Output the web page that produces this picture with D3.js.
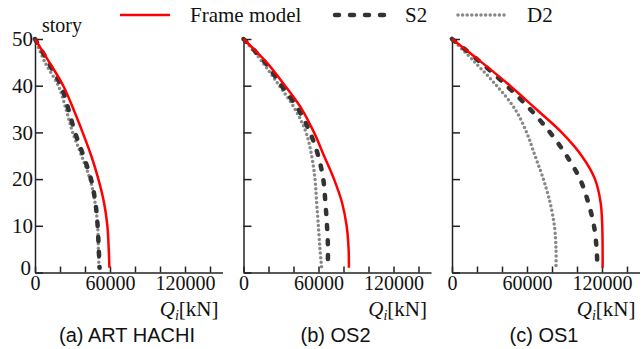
<!DOCTYPE html>
<html>
<head>
<meta charset="utf-8">
<script src="https://cdn.jsdelivr.net/npm/d3@7"></script>
<style>
  body { margin: 0; background: #fff; }
  svg text { fill: #111; }
</style>
</head>
<body>
<svg id="chart" width="643" height="349"></svg>
<script>
// story levels (top to bottom)
const stories = [50, 45, 40, 35, 30, 25, 20, 15, 10, 5, 1];

// story shear Qi [kN]
const frameA = [0, 11500, 22600, 30700, 38100, 45000, 50700, 55200, 57900, 59000, 59500];
const s2A    = [0, 10700, 20800, 26700, 32000, 38700, 44800, 48300, 50100, 51000, 51700];
const d2A    = [0,  8000, 18700, 24800, 30100, 37300, 44000, 48000, 50100, 50700, 51200];

const frameB = [0, 18500, 33200, 46600, 56400, 64400, 72400, 78800, 82500, 84100, 84300];
const s2B    = [0, 17200, 30500, 43800, 53200, 59800, 63800, 65500, 66800, 67600, 67300];
const d2B    = [0, 15300, 28700, 41200, 50000, 54500, 57200, 58500, 59900, 61200, 62500];

const frameC = [0, 23800, 46400, 67200, 87700, 103700, 114400, 118900, 120200, 120500, 120500];
const s2C    = [0, 22900, 43700, 62400, 78400, 91700, 102400, 109000, 113600, 115700, 116300];
const d2C    = [0, 18400, 35700, 50400, 59700, 66400, 73100, 78400, 81900, 83200, 83200];

const panelTitles = ["(a) ART HACHI", "(b) OS2", "(c) OS1"];
const seriesNames = ["Frame model", "S2", "D2"];
const xTicks = [0, 20000, 40000, 60000, 80000, 100000, 120000, 140000];
const xLabels = [0, 60000, 120000];
const yTicks = [0, 10, 20, 30, 40, 50];

const panels = [
  { title: panelTitles[0], left: 35,  series: [frameA, s2A, d2A], yLabels: true },
  { title: panelTitles[1], left: 243.5, series: [frameB, s2B, d2B], yLabels: false },
  { title: panelTitles[2], left: 452, series: [frameC, s2C, d2C], yLabels: false }
];

const styles = [
  { stroke: "#ff0000", width: 2.5, dash: null, cap: "butt" },
  { stroke: "#333333", width: 4.5, dash: "4,11", cap: "round" },
  { stroke: "#888888", width: 3.5, dash: "0,4.6", cap: "round" }
];

const svg = d3.select("#chart");
const serif = "Liberation Serif, Times New Roman, serif";
const sans = "Liberation Sans, Arial, sans-serif";

const plotW = 187.5;
const plotTop = 39, plotBottom = 272.5;

const y = d3.scaleLinear().domain([0, 50]).range([plotBottom, plotTop]);

panels.forEach((p, pi) => {
  const x = d3.scaleLinear().domain([0, 150000]).range([0, plotW]);
  const g = svg.append("g").attr("transform", "translate(" + p.left + ",0)");

  // x axis
  const xa = g.append("g")
    .attr("transform", "translate(0," + plotBottom + ")")
    .call(d3.axisBottom(x)
      .tickValues(xTicks)
      .tickSizeInner(-6)
      .tickSizeOuter(0)
      .tickPadding(3)
      .tickFormat(d => xLabels.includes(d) ? d : ""));
  xa.selectAll("text")
    .style("font-family", serif).style("font-size", "20px").attr("fill", "#111");

  // y axis
  const ya = g.append("g")
    .call(d3.axisLeft(y)
      .tickValues(yTicks)
      .tickSizeInner(-8)
      .tickSizeOuter(0)
      .tickPadding(2)
      .tickFormat(d => p.yLabels ? d : ""));
  ya.selectAll("text")
    .style("font-family", serif).style("font-size", "21px").attr("fill", "#111");
  // lift the bottom "0" so it clears the x-axis "0"
  ya.selectAll(".tick text").filter(d => d === 0)
    .attr("dy", "0.1em").attr("x", -4);

  g.selectAll(".domain, .tick line").attr("stroke", "#222").attr("stroke-width", 1.5);

  // curves (draw D2, S2, then frame model on top)
  const line = d3.line()
    .x(d => x(d[0]))
    .y(d => y(d[1]))
    .curve(d3.curveCatmullRom.alpha(0.5));

  [2, 1, 0].forEach(si => {
    const pts = stories.map((s, i) => [p.series[si][i], s]);
    const st = styles[si];
    g.append("path")
      .datum(pts)
      .attr("d", line)
      .attr("fill", "none")
      .attr("stroke", st.stroke)
      .attr("stroke-width", st.width)
      .attr("stroke-linecap", st.cap)
      .attr("stroke-dasharray", st.dash);
  });

  // axis label
  const ql = g.append("text")
    .attr("x", plotW - 4)
    .attr("y", 316)
    .attr("text-anchor", "end")
    .style("font-family", serif)
    .style("font-size", "21px");
  ql.append("tspan").style("font-style", "italic").text("Q");
  ql.append("tspan").style("font-style", "italic").style("font-size", "14px").attr("dy", 4).text("i");
  ql.append("tspan").attr("dy", -4).text("[kN]");

  if (pi === 0) {
    g.append("text")
      .attr("x", 7).attr("y", 32)
      .style("font-family", serif).style("font-size", "20px")
      .text("story");
  }

  // panel title
  g.append("text")
    .attr("x", 92).attr("y", 342)
    .attr("text-anchor", "middle")
    .style("font-family", sans).style("font-size", "20px")
    .text(p.title);
});

// legend
const legend = [
  { x1: 120, x2: 170, tx: 190 },
  { x1: 335, x2: 385, tx: 405 },
  { x1: 458, x2: 505, tx: 527 }
];
legend.forEach((l, i) => {
  const st = styles[i];
  svg.append("line")
    .attr("x1", l.x1).attr("x2", l.x2).attr("y1", 15).attr("y2", 15)
    .attr("stroke", st.stroke)
    .attr("stroke-width", st.width)
    .attr("stroke-linecap", st.cap)
    .attr("stroke-dasharray", st.dash);
  svg.append("text")
    .attr("x", l.tx).attr("y", 22)
    .style("font-family", serif).style("font-size", "21px")
    .text(seriesNames[i]);
});
</script>
</body>
</html>
